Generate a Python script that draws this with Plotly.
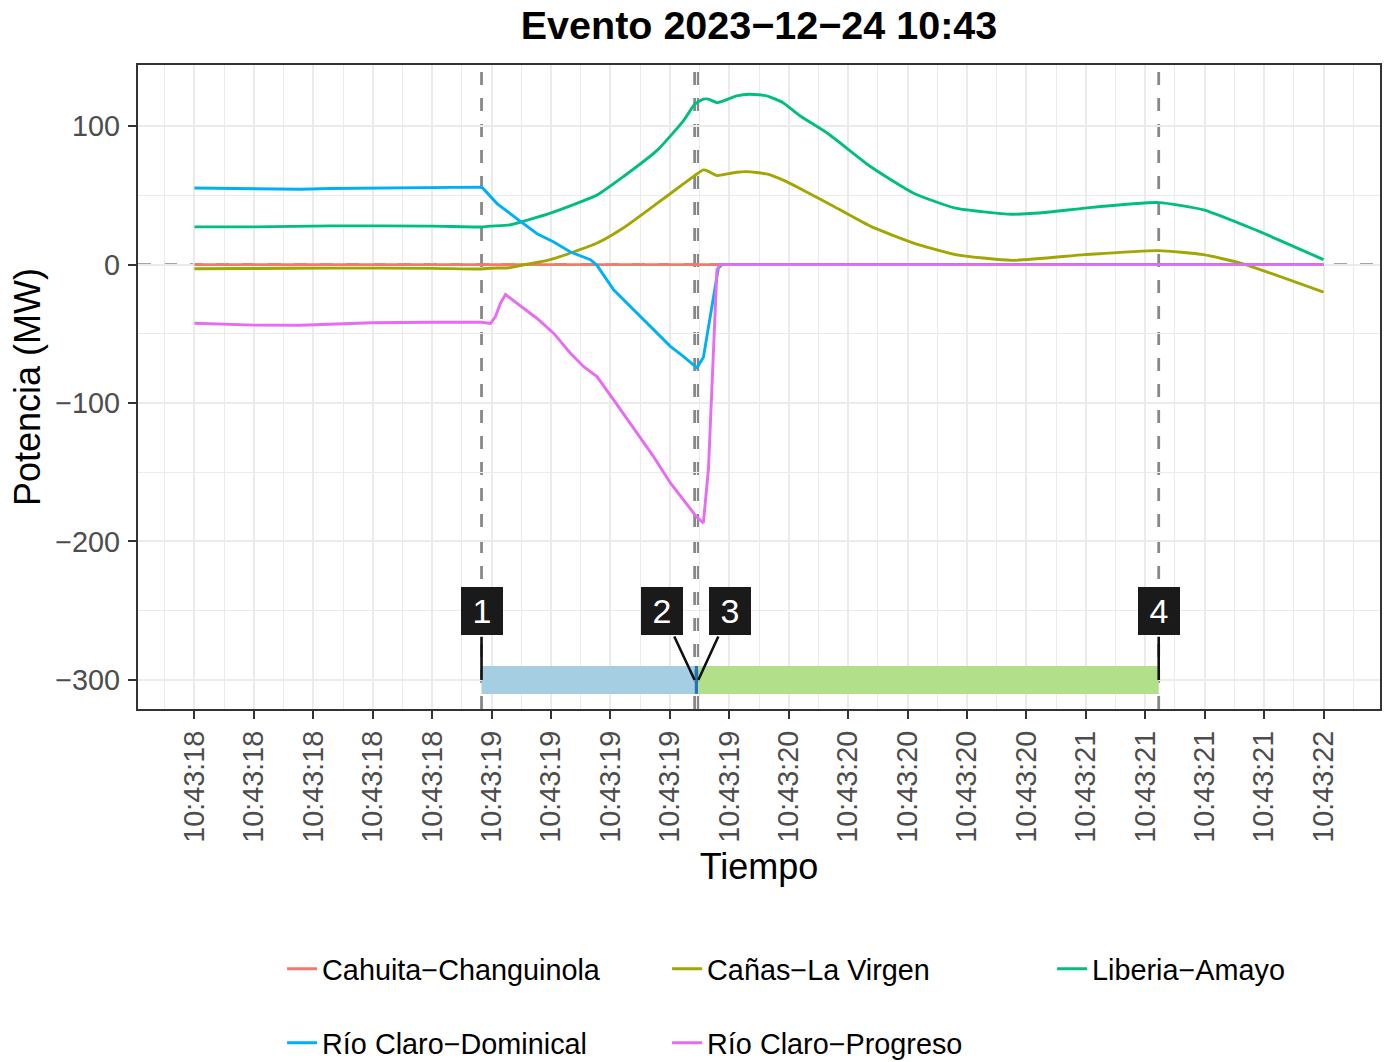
import numpy as np
import plotly.graph_objects as go
from datetime import datetime, timedelta

# ---------------- data ----------------
BASE = datetime(2023, 12, 24, 10, 43, 18)
TITLE = "Evento 2023−12−24 10:43"
X_TITLE = "Tiempo"
Y_TITLE = "Potencia (MW)"

series_names = ["Cahuita−Changuinola", "Cañas−La Virgen", "Liberia−Amayo",
                "Río Claro−Dominical", "Río Claro−Progreso"]

# seconds after 10:43:18.000
t_cahuita = [0.0, 4.0]
p_cahuita = [0.0, 0.0]

t_canas = [0.0, 0.212, 0.481, 0.842, 1.017, 1.049, 1.12, 1.15, 1.261, 1.427, 1.519, 1.64,
           1.732, 1.78, 1.803, 1.821, 1.851, 1.874, 1.921, 1.956, 2.027, 2.086, 2.145,
           2.244, 2.396, 2.548, 2.696, 2.896, 3.154, 3.416, 3.575, 3.712, 4.0]
p_canas = [-3.0, -2.8, -2.5, -2.7, -3.2, -2.6, -2.2, -0.8, 3.6, 15.6, 26.4, 44.4,
           58.3, 65.5, 68.4, 67.4, 64.3, 65.0, 66.7, 67.2, 65.5, 61.0, 55.0,
           44.4, 27.6, 15.6, 7.2, 3.1, 7.2, 10.1, 7.2, 0.7, -19.9]

t_liberia = [0.0, 0.212, 0.481, 0.842, 1.017, 1.049, 1.12, 1.261, 1.427, 1.519, 1.64,
             1.732, 1.773, 1.803, 1.821, 1.851, 1.874, 1.921, 1.968, 2.027, 2.085, 2.145,
             2.244, 2.396, 2.548, 2.696, 2.896, 3.03, 3.154, 3.416, 3.575, 3.758, 4.0]
p_liberia = [27.3, 27.3, 28.0, 27.8, 27.2, 27.8, 28.8, 37.2, 50.4, 63.5, 82.7,
             103.9, 115.9, 119.5, 119.5, 117.0, 118.3, 121.9, 123.1, 121.9, 117.0, 107.5,
             94.7, 70.7, 51.6, 40.8, 36.4, 38.0, 40.8, 44.8, 39.6, 25.2, 3.6]

t_dominical = [0.0, 0.212, 0.375, 0.481, 0.63, 0.842, 0.98, 1.017, 1.024, 1.073, 1.143,
               1.214, 1.273, 1.332, 1.403, 1.426, 1.485, 1.52, 1.615, 1.686, 1.732, 1.78,
               1.803, 1.856, 1.869, 4.0]
p_dominical = [55.4, 54.6, 54.4, 55.0, 55.4, 56.0, 56.2, 56.0, 54.7, 43.9, 33.1,
               22.3, 16.3, 9.1, 3.6, -0.5, -18.2, -25.4, -44.6, -59.0, -66.2, -74.5,
               -67.0, -2.4, 0.0, 0.0]

t_progreso = [0.0, 0.212, 0.375, 0.481, 0.63, 0.842, 1.017, 1.049, 1.066, 1.084, 1.102,
              1.143, 1.214, 1.273, 1.332, 1.379, 1.426, 1.485, 1.567, 1.626, 1.686, 1.756,
              1.78, 1.803, 1.821, 1.851, 1.862, 4.0]
p_progreso = [-42.4, -43.7, -43.8, -43.0, -42.0, -41.6, -41.6, -42.5, -37.7, -28.0, -21.6,
              -28.0, -38.9, -49.7, -64.0, -73.7, -80.9, -97.7, -121.7, -138.5, -157.7, -176.5,
              -182.5, -186.6, -147.5, -3.6, 0.0, 0.0]

series_t = [t_cahuita, t_canas, t_liberia, t_dominical, t_progreso]
series_p = [p_cahuita, p_canas, p_liberia, p_dominical, p_progreso]

# events
event_t = [1.017, 1.772, 1.785, 3.416]
event_labels = ["1", "2", "3", "4"]
phase_start = [1.017, 1.772, 1.785]
phase_end = [1.772, 1.785, 3.416]
phase_level = -300
label_level = -250

y_tickvals = [-300, -200, -100, 0, 100]
y_minor = [-250, -150, -50, 50]

# ---------------- styles ----------------
colors = ["#F8766D", "#A3A500", "#00BF7D", "#00B0F6", "#E76BF3"]
phase_colors = ["#A6CEE3", "#1F78B4", "#B2DF8A"]
label_offsets = [0.0, -0.115, 0.113, 0.0]
FONT = "Liberation Sans, Arial, Helvetica, sans-serif"

tick_t = np.linspace(0.0, 4.0, 20)
tick_text = [(BASE + timedelta(seconds=float(s))).strftime("%H:%M:%S") for s in tick_t]
step = tick_t[1] - tick_t[0]
x_minor = [float(v) for v in np.concatenate([[tick_t[0] - step / 2],
                                             (tick_t[:-1] + tick_t[1:]) / 2,
                                             [tick_t[-1] + step / 2]])]

W, H = 1388, 1062

fig = go.Figure()

for i, (name, tt, pp) in enumerate(zip(series_names, series_t, series_p)):
    smooth = i in (1, 2)
    line = dict(color=colors[i], width=2.9)
    if smooth:
        line.update(shape="spline", smoothing=0.5)
    fig.add_trace(go.Scatter(
        x=tt, y=pp, mode="lines", name=name, line=line,
        legend="legend" if i < 3 else "legend2", hoverinfo="skip"))

for s, e, c in zip(phase_start, phase_end, phase_colors):
    fig.add_trace(go.Scatter(
        x=[s, e], y=[phase_level, phase_level], mode="lines",
        line=dict(color=c, width=28), showlegend=False, hoverinfo="skip"))

for et in event_t:
    fig.add_vline(x=et, line=dict(color="#888888", width=2.8, dash="13px,13px"),
                  layer="below")
fig.add_hline(y=0, line=dict(color="#888888", width=2.8, dash="13px,13px"),
              layer="below")

for et, lab, off in zip(event_t, event_labels, label_offsets):
    fig.add_annotation(
        x=et, y=phase_level, ax=et + off, ay=label_level, xref="x", yref="y",
        axref="x", ayref="y", text=lab, showarrow=True, arrowhead=0,
        arrowwidth=2.6, arrowcolor="#111111", standoff=0, startstandoff=2,
        bgcolor="#1A1A1A", bordercolor="#1A1A1A", borderwidth=0, borderpad=3,
        width=36, height=42, font=dict(family=FONT, size=34, color="white"))

axis_common = dict(
    showline=True, mirror=True, linecolor="#333333", linewidth=2.2,
    ticks="outside", ticklen=8, tickwidth=2.2, tickcolor="#333333",
    showgrid=True, gridcolor="#EBEBEB", gridwidth=2.4, zeroline=False,
    tickfont=dict(family=FONT, size=28.8, color="#4D4D4D"),
)

fig.update_layout(
    width=W, height=H,
    margin=dict(l=138, r=8, t=65, b=353, autoexpand=False),
    paper_bgcolor="white", plot_bgcolor="white",
    font=dict(family=FONT, color="black"),
    title=dict(text="<b>" + TITLE + "</b>", x=0.5, xref="paper", xanchor="center",
               y=1 - 25 / H, yref="container", yanchor="middle",
               font=dict(family=FONT, size=39.5, color="black")),
    xaxis=dict(range=[-0.2, 4.2], tickmode="array", tickvals=[float(v) for v in tick_t],
               ticktext=tick_text, tickangle=-90, ticklabelstandoff=0,
               minor=dict(tickmode="array", tickvals=x_minor, showgrid=True,
                          gridcolor="#EBEBEB", gridwidth=1.2, ticks=""),
               title=dict(text=X_TITLE, font=dict(family=FONT, size=36, color="black"),
                          standoff=12),
               **axis_common),
    yaxis=dict(range=[-321, 144.2], tickmode="array", tickvals=y_tickvals,
               ticklabelstandoff=2,
               minor=dict(tickmode="array", tickvals=y_minor, showgrid=True,
                          gridcolor="#EBEBEB", gridwidth=1.2, ticks=""),
               title=dict(text=Y_TITLE, font=dict(family=FONT, size=36, color="black"),
                          standoff=4),
               **axis_common),
    legend=dict(orientation="h", x=0.116, xanchor="left", y=-0.4037, yanchor="middle",
                entrywidth=340, entrywidthmode="pixels", bgcolor="rgba(0,0,0,0)",
                font=dict(family=FONT, size=28.8, color="black")),
    legend2=dict(orientation="h", x=0.116, xanchor="left", y=-0.5186, yanchor="middle",
                 entrywidth=340, entrywidthmode="pixels", bgcolor="rgba(0,0,0,0)",
                 font=dict(family=FONT, size=28.8, color="black")),
)

fig.write_html("out.html",
               config={"displayModeBar": False},
               post_script="document.body.style.margin='0px';"
                           "document.documentElement.style.overflow='hidden';")
